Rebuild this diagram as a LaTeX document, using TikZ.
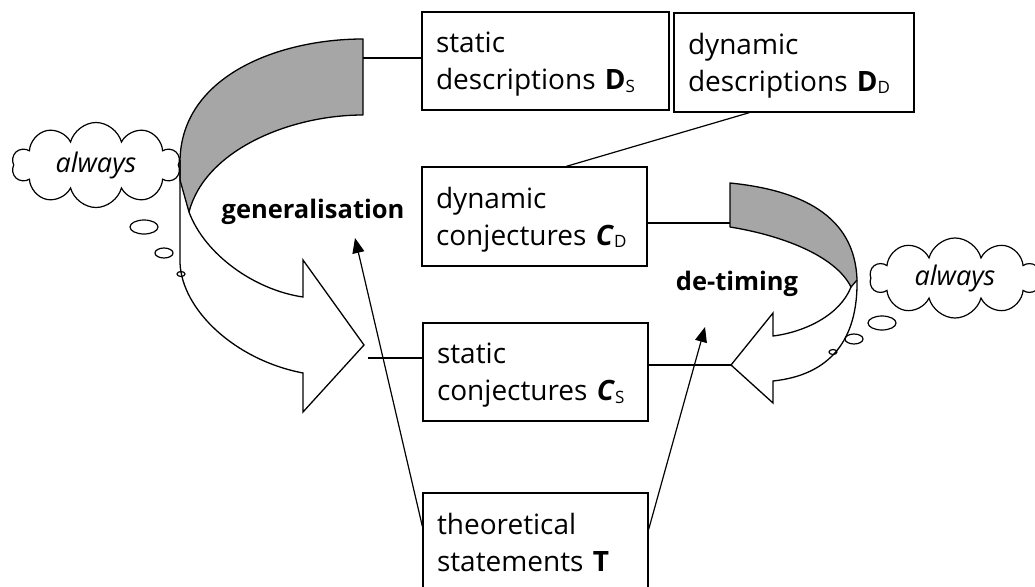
\documentclass[tikz,border=0pt]{standalone}
\usepackage{fontspec}
\setmainfont{Open Sans}
\usetikzlibrary{shapes.symbols,arrows.meta,calc}
\tikzset{
  box/.style={draw, line width=1.3pt, rectangle, align=left, inner xsep=14pt, inner ysep=0pt,
    font=\fontsize{28}{37}\selectfont},
  lbl/.style={font=\bfseries\fontsize{25.5}{30}\selectfont},
  thought/.style={draw, cloud, cloud puffs=10, cloud ignores aspect, line width=1.2pt,
    font=\itshape\fontsize{27}{30}\selectfont, inner sep=0pt},
  bubble/.style={draw, line width=1.2pt},
  band/.style={draw, line width=1.3pt, fill=black!35, line join=round},
  ribbon/.style={draw, line width=1.3pt, line join=miter},
  conn/.style={line width=1.2pt},
  ptr/.style={line width=1.2pt, -{Triangle[length=15pt,width=12pt]}},
}
\newcommand\topl{\rule{0pt}{27.7pt}}
\newcommand\botl{\rule[-6.7pt]{0pt}{6.7pt}}
\newcommand\mysub[1]{\raisebox{-2.5pt}{\fontsize{17}{17}\selectfont #1}}
\begin{document}
\begin{tikzpicture}[x=1pt,y=-1pt]
\useasboundingbox (0,0) rectangle (1035,586);

% boxes
\node[box, minimum width=247pt, minimum height=98pt, text width=219pt] (ds) at (545.5,61)
  {\topl static\\descriptions \textbf{D}\mysub{S}\botl};
\node[box, minimum width=240pt, minimum height=99pt, text width=212pt] (dd) at (794,62.5)
  {\topl dynamic\\descriptions \textbf{D}\mysub{D}\botl};
\node[box, minimum width=225pt, minimum height=99pt, text width=197pt] (cd) at (534.5,216.5)
  {\topl dynamic\\conjectures \textbf{\itshape C}\mysub{D}\botl};
\node[box, minimum width=225pt, minimum height=98pt, text width=197pt] (cs) at (535.5,372)
  {\topl static\\conjectures \textbf{\itshape C}\mysub{S}\botl};
\node[box, minimum width=225pt, minimum height=98pt, text width=197pt] (t) at (535.5,542)
  {\topl theoretical\\statements \textbf{T}\botl};

% left curved arrow (generalisation)
\draw[band] (363,39) .. controls (280,39) and (182,75) .. (180,160) -- (180,180) -- (189,212)
  .. controls (205,150) and (290,115) .. (363,115) -- cycle;
\draw[ribbon] (180,160) -- (180,263) .. controls (182,310) and (235,360) .. (303,373)
  -- (303,412) -- (364,345) -- (303,260) -- (303,297)
  .. controls (255,290) and (205,255) .. (189,212);

% right curved arrow (de-timing)
\draw[band] (730,183) .. controls (800,190) and (855,215) .. (857,280) -- (851,287)
  .. controls (835,255) and (780,235) .. (730,227) -- cycle;
\draw[ribbon] (857,280) .. controls (858,340) and (830,375) .. (773,381)
  -- (773,403) -- (731,365) -- (773,313) -- (773,336)
  .. controls (805,332) and (840,315) .. (851,287);

% labels
\node[lbl] (gen) at (313,212) {generalisation};
\node[lbl] (det) at (737,283.5) {de-timing};

% clouds
\node[thought, minimum width=168pt, minimum height=85pt] (lc) at (96,165) {always};
\draw[bubble] (144,227) ellipse [x radius=14pt, y radius=7pt];
\draw[bubble] (164,253) ellipse [x radius=9pt, y radius=5pt];
\draw[bubble] (181,274) ellipse [x radius=4pt, y radius=2.5pt];

\node[thought, minimum width=170pt, minimum height=80pt] (rc) at (955,278) {always};
\draw[bubble] (882,323) ellipse [x radius=14pt, y radius=7pt];
\draw[bubble] (854,339) ellipse [x radius=9pt, y radius=5pt];
\draw[bubble] (833,352) ellipse [x radius=4pt, y radius=2.5pt];

% connectors
\coordinate (lend) at (363,58);
\draw[conn] (lend) -- (lend -| ds.west);
\draw[conn] ($(dd.south west)+(76,0)$) -- ($(cd.north west)+(145,0)$);
\coordinate (rend) at (730,223);
\draw[conn] (rend -| cd.east) -- (rend);
\coordinate (rtip) at (731,365);
\draw[conn] (rtip -| cs.east) -- (rtip);
\coordinate (ltip) at (368,358);
\draw[conn] (ltip) -- (ltip -| cs.west);
\coordinate (gtip) at (355,238);
\draw[ptr] ($(t.north west)+(0,34)$) -- (gtip);
\coordinate (dtip) at (705,327);
\draw[ptr] ($(t.north east)+(0,37)$) -- (dtip);
\end{tikzpicture}
\end{document}
